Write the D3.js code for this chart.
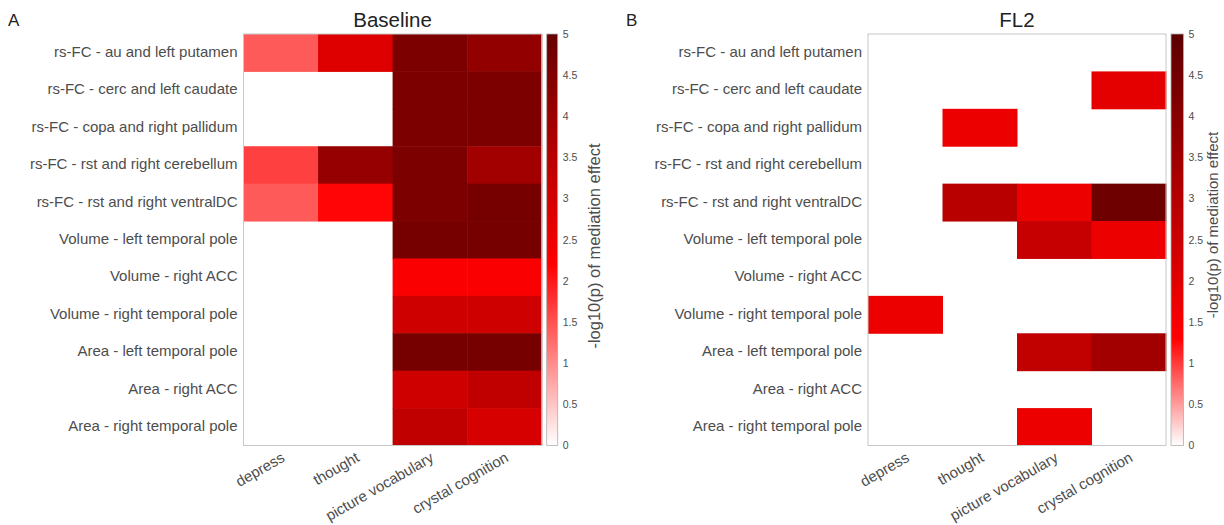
<!DOCTYPE html>
<html>
<head>
<meta charset="utf-8">
<script src="https://cdn.jsdelivr.net/npm/d3@7"></script>
<style>
  body { margin: 0; background: #fff; }
  text { font-family: "Liberation Sans", Arial, sans-serif; }
</style>
</head>
<body>
<svg id="chart" width="1224" height="525"></svg>
<script>
const rows = [
  'rs-FC - au and left putamen',
  'rs-FC - cerc and left caudate',
  'rs-FC - copa and right pallidum',
  'rs-FC - rst and right cerebellum',
  'rs-FC - rst and right ventralDC',
  'Volume - left temporal pole',
  'Volume - right ACC',
  'Volume - right temporal pole',
  'Area - left temporal pole',
  'Area - right ACC',
  'Area - right temporal pole'
];
const cols = ['depress', 'thought', 'picture vocabulary', 'crystal cognition'];

// -log10(p), null = not significant (blank cell)
const baseline = [
  [1.42, 2.8, 4.6, 4.2],
  [null, null, 4.6, 4.6],
  [null, null, 4.6, 4.6],
  [1.65, 4.1, 4.6, 3.9],
  [1.42, 2.16, 4.6, 4.7],
  [null, null, 4.7, 4.7],
  [null, null, 2.3, 2.3],
  [null, null, 3.1, 3.1],
  [null, null, 4.7, 4.7],
  [null, null, 3.1, 3.35],
  [null, null, 3.35, 2.95]
];
const fl2 = [
  [null, null, null, null],
  [null, null, null, 1.88],
  [null, 1.7, null, null],
  [null, null, null, null],
  [null, 2.88, 1.7, 4.6],
  [null, null, 2.6, 1.7],
  [null, null, null, null],
  [1.7, null, null, null],
  [null, null, 2.7, 3.4],
  [null, null, null, null],
  [null, null, 1.7, null]
];
const legendTicks = [0, 0.5, 1, 1.5, 2, 2.5, 3, 3.5, 4, 4.5, 5];

const svg = d3.select('#chart');
const plotTop = 34, plotBottom = 445.5;

const panels = [
  { letter: 'A', letterX: 8, title: 'Baseline', x0: 243.5, x1: 541.7, values: baseline,
    redAt: 2.2, dark: '#660000', cbW: 11, titleX: 594, titleY: 246, titleSize: 16.5 },
  { letter: 'B', letterX: 626, title: 'FL2', x0: 868, x1: 1166, values: fl2,
    redAt: 1.3, dark: '#5c0000', cbW: 12.5, titleX: 1213, titleY: 225, titleSize: 15 }
];

panels.forEach(p => {
  const g = svg.append('g');
  const x = d3.scaleBand().domain(cols).range([p.x0, p.x1]);
  const y = d3.scaleBand().domain(rows).range([plotTop, plotBottom]);
  const color = d3.scaleLinear()
    .domain([0, p.redAt, 5])
    .range(['#ffffff', '#ff0000', p.dark])
    .clamp(true);

  g.append('text')
    .attr('x', p.letterX).attr('y', 26)
    .attr('font-size', 17).attr('fill', '#222')
    .text(p.letter);

  g.append('text')
    .attr('x', (p.x0 + p.x1) / 2).attr('y', 27)
    .attr('text-anchor', 'middle')
    .attr('font-size', 20.5).attr('fill', '#222')
    .text(p.title);

  const cells = [];
  p.values.forEach((r, i) => r.forEach((v, j) => {
    if (v != null) cells.push({ row: rows[i], col: cols[j], v });
  }));

  g.selectAll('rect.cell')
    .data(cells)
    .join('rect')
    .attr('class', 'cell')
    .attr('x', d => x(d.col))
    .attr('y', d => y(d.row))
    .attr('width', x.bandwidth() + 0.5)
    .attr('height', y.bandwidth() + 0.5)
    .attr('fill', d => color(d.v));

  // panel border
  g.append('rect')
    .attr('x', p.x0).attr('y', plotTop)
    .attr('width', p.x1 - p.x0).attr('height', plotBottom - plotTop)
    .attr('fill', 'none')
    .attr('stroke', '#c8c8c8');

  // row labels
  g.append('g')
    .attr('transform', `translate(${p.x0 - 6},0)`)
    .selectAll('text')
    .data(rows)
    .join('text')
    .attr('y', d => y(d) + y.bandwidth() / 2 - 1)
    .attr('dy', '0.35em')
    .attr('text-anchor', 'end')
    .attr('font-size', 15)
    .attr('fill', '#4d4d4d')
    .text(d => d);

  // column labels, rotated
  g.append('g')
    .selectAll('text')
    .data(cols)
    .join('text')
    .attr('transform', d => `translate(${x(d) + x.bandwidth() / 2 + 5},${plotBottom + 15}) rotate(-30)`)
    .attr('text-anchor', 'end')
    .attr('font-size', 15)
    .attr('fill', '#4d4d4d')
    .text(d => d);

  // colour bar
  const cbX = p.x1 + 5, cbW = p.cbW;
  const cy = d3.scaleLinear().domain([0, 5]).range([plotBottom, plotTop]);
  const gradId = 'grad' + p.letter;
  const grad = svg.append('defs').append('linearGradient')
    .attr('id', gradId)
    .attr('x1', 0).attr('y1', 1).attr('x2', 0).attr('y2', 0);
  d3.range(0, 5.01, 0.1).forEach(t => {
    grad.append('stop').attr('offset', t / 5).attr('stop-color', color(t));
  });
  g.append('rect')
    .attr('x', cbX).attr('y', plotTop)
    .attr('width', cbW).attr('height', plotBottom - plotTop)
    .attr('fill', `url(#${gradId})`)
    .attr('stroke', '#b0b0b0')
    .attr('stroke-width', 0.8);

  const axis = d3.axisRight(cy)
    .tickValues(legendTicks)
    .tickSize(0)
    .tickPadding(5)
    .tickFormat(d3.format('~g'));
  const ax = g.append('g')
    .attr('transform', `translate(${cbX + cbW},0)`)
    .call(axis);
  ax.select('.domain').remove();
  ax.selectAll('text')
    .attr('font-size', 10.5)
    .attr('fill', '#4d4d4d')
    .attr('font-family', '"Liberation Sans", Arial, sans-serif');

  g.append('text')
    .attr('transform', `translate(${p.titleX},${p.titleY}) rotate(-90)`)
    .attr('text-anchor', 'middle')
    .attr('dy', '0.35em')
    .attr('font-size', p.titleSize)
    .attr('fill', '#4d4d4d')
    .text('-log10(p) of mediation effect');
});
</script>
</body>
</html>
